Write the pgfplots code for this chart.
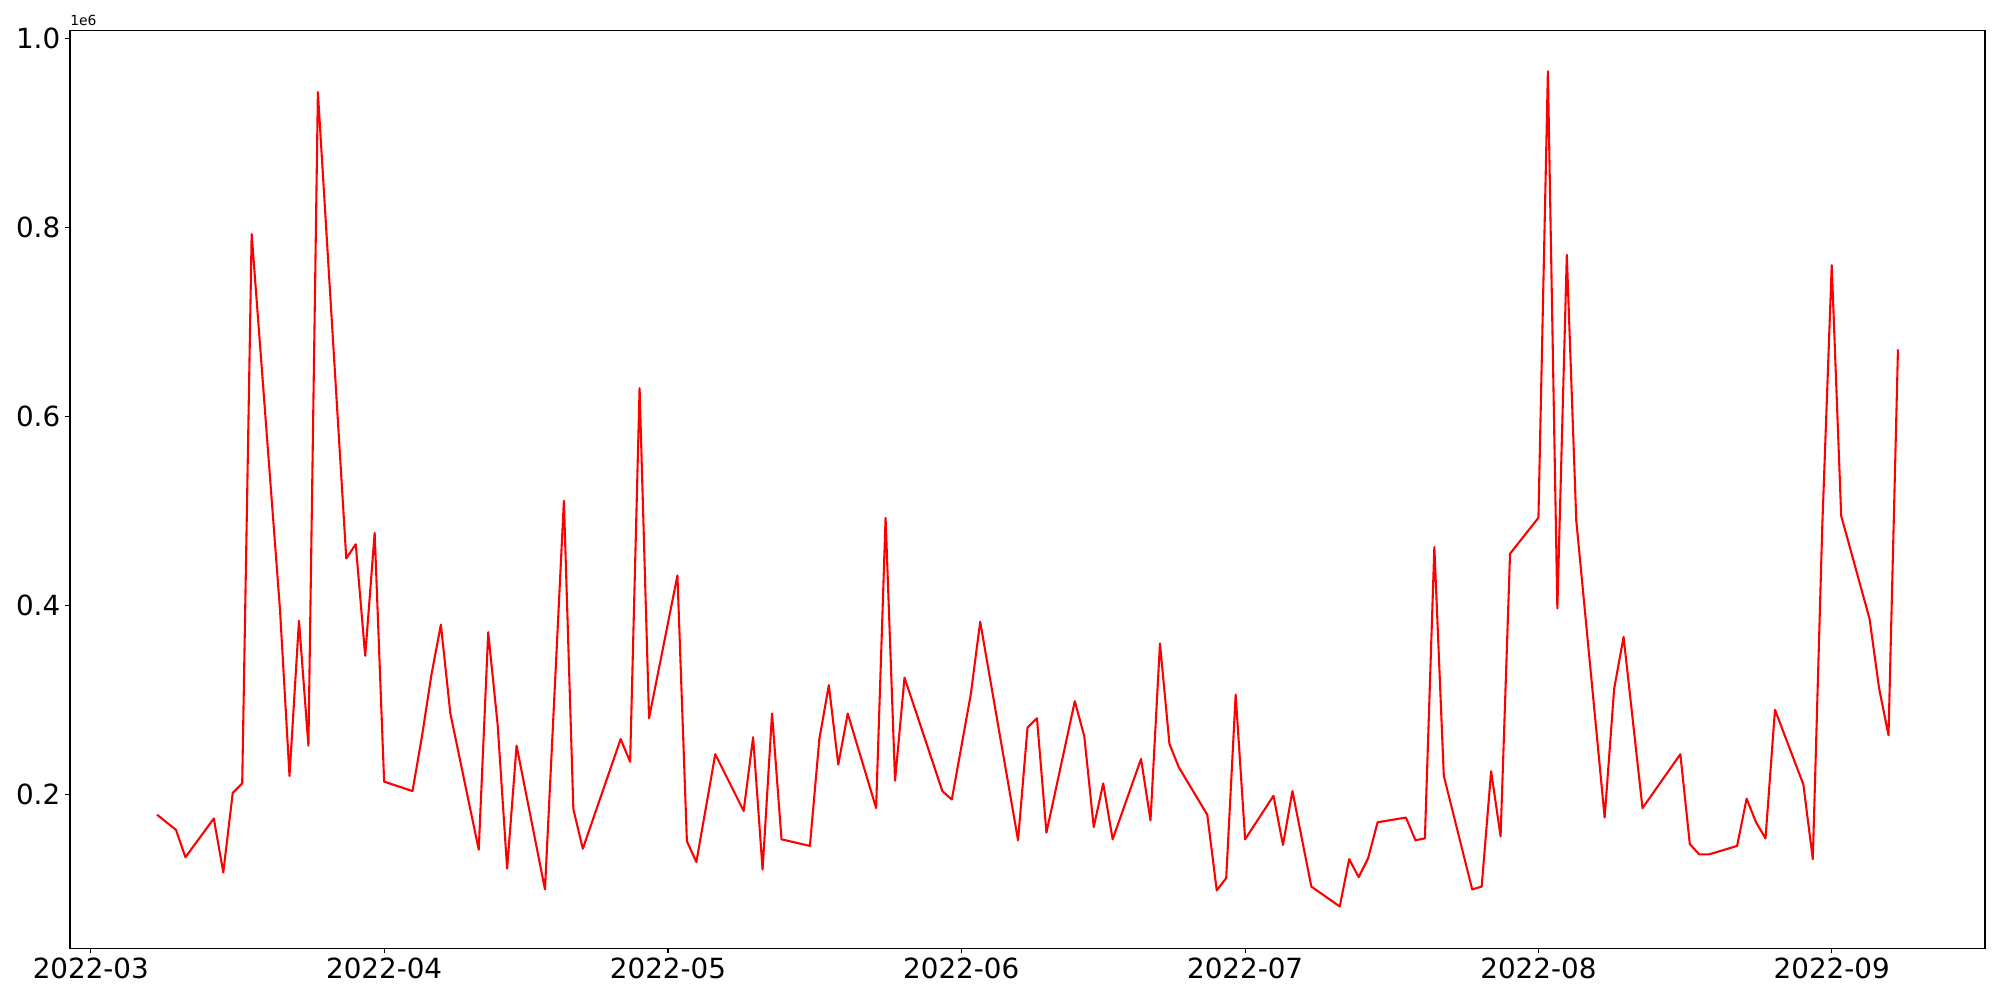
\documentclass[border=0pt]{standalone}
\usepackage{fontspec}
\setmainfont{DejaVu Sans}
\usepackage{pgfplots}
\usepackage{pgfplotstable}
\pgfplotsset{compat=1.18}
\usepgfplotslibrary{dateplot}

\pgfplotstableread{
date value
2022-03-08 179000
2022-03-10 163000
2022-03-11 134000
2022-03-14 175000
2022-03-15 118000
2022-03-16 202000
2022-03-17 212000
2022-03-18 793000
2022-03-21 395000
2022-03-22 220000
2022-03-23 384000
2022-03-24 252000
2022-03-25 943000
2022-03-28 450000
2022-03-29 465000
2022-03-30 347000
2022-03-31 477000
2022-04-01 214000
2022-04-04 204000
2022-04-05 262000
2022-04-06 327000
2022-04-07 380000
2022-04-08 286000
2022-04-11 142000
2022-04-12 372000
2022-04-13 274000
2022-04-14 122000
2022-04-15 252000
2022-04-18 100000
2022-04-20 511000
2022-04-21 185000
2022-04-22 143000
2022-04-26 259000
2022-04-27 235000
2022-04-28 630000
2022-04-29 281000
2022-05-02 432000
2022-05-03 151000
2022-05-04 129000
2022-05-06 243000
2022-05-09 183000
2022-05-10 261000
2022-05-11 121000
2022-05-12 286000
2022-05-13 153000
2022-05-16 146000
2022-05-17 259000
2022-05-18 316000
2022-05-19 232000
2022-05-20 286000
2022-05-23 186000
2022-05-24 493000
2022-05-25 215000
2022-05-26 324000
2022-05-30 204000
2022-05-31 195000
2022-06-02 306000
2022-06-03 383000
2022-06-07 152000
2022-06-08 271000
2022-06-09 281000
2022-06-10 160000
2022-06-13 299000
2022-06-14 262000
2022-06-15 166000
2022-06-16 212000
2022-06-17 153000
2022-06-20 238000
2022-06-21 173000
2022-06-22 360000
2022-06-23 254000
2022-06-24 229000
2022-06-27 179000
2022-06-28 99000
2022-06-29 112000
2022-06-30 306000
2022-07-01 153000
2022-07-04 199000
2022-07-05 147000
2022-07-06 204000
2022-07-08 103000
2022-07-11 82000
2022-07-12 132000
2022-07-13 113000
2022-07-14 133000
2022-07-15 171000
2022-07-18 176000
2022-07-19 152000
2022-07-20 154000
2022-07-21 462000
2022-07-22 220000
2022-07-25 100000
2022-07-26 103000
2022-07-27 225000
2022-07-28 156000
2022-07-29 455000
2022-08-01 493000
2022-08-02 965000
2022-08-03 397000
2022-08-04 771000
2022-08-05 490000
2022-08-08 176000
2022-08-09 312000
2022-08-10 367000
2022-08-12 186000
2022-08-16 243000
2022-08-17 148000
2022-08-18 137000
2022-08-19 137000
2022-08-22 146000
2022-08-23 196000
2022-08-24 171000
2022-08-25 154000
2022-08-26 290000
2022-08-29 211000
2022-08-30 132000
2022-08-31 484000
2022-09-01 760000
2022-09-02 495000
2022-09-05 386000
2022-09-06 313000
2022-09-07 263000
2022-09-08 671000
}\datatable

\begin{document}
\begin{tikzpicture}
\begin{axis}[
    name=main,
    scale only axis,
    width=1378.8pt,
    height=660.5pt,
    date coordinates in=x,
    xmin={2022-02-26 19:12},
    xmax={2022-09-17 04:48},
    ymin=38000,
    ymax=1008000,
    xtick={2022-03-01,2022-04-01,2022-05-01,2022-06-01,2022-07-01,2022-08-01,2022-09-01},
    xticklabel={\year-\month},
    ytick={200000,400000,600000,800000,1000000},
    yticklabels={0.2,0.4,0.6,0.8,1.0},
    scaled y ticks=false,
    tick label style={font=\fontsize{20}{24}\selectfont},
    tick align=outside,
    tick pos=left,
    major tick length=3.5pt,
    every tick/.style={black, line width=0.8pt},
    axis line style={line width=0.8pt},
]
\addplot[red, line width=1.5pt, line join=round, mark=none] table[x=date, y=value] {\datatable};
\end{axis}
\node[anchor=base west, inner sep=0pt, font=\fontsize{10}{12}\selectfont] at ([yshift=4pt]main.north west) {1e6};
\pgfresetboundingbox
\path[use as bounding box] ([xshift=-50.4pt,yshift=-37.4pt]main.south west) rectangle ([xshift=10.8pt,yshift=22.1pt]main.north east);
\end{tikzpicture}
\end{document}
